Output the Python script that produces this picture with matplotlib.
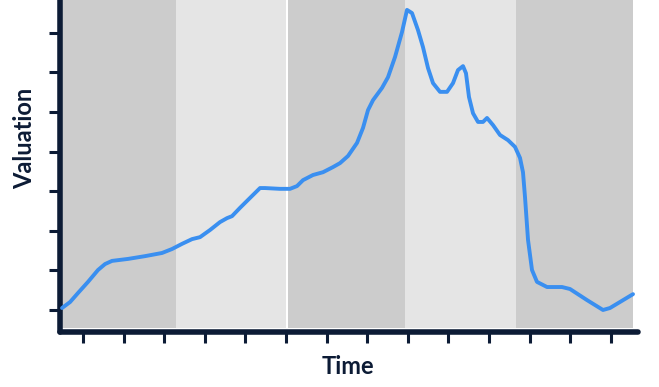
import matplotlib
matplotlib.use("Agg")
import matplotlib.pyplot as plt

# Data (time units, valuation units)
time = [0.483, 0.680, 0.877, 1.123, 1.369, 1.542, 1.714, 2.108, 2.527, 2.946,
        3.192, 3.438, 3.685, 3.882, 4.128, 4.374, 4.547, 4.670, 4.867, 5.113,
        5.360, 5.483, 5.852, 6.099, 6.271, 6.419, 6.665, 6.911, 7.158, 7.330,
        7.527, 7.749, 7.897, 8.020, 8.143, 8.365, 8.512, 8.685, 8.857, 8.980,
        9.103, 9.251, 9.374, 9.498, 9.621, 9.793, 9.966, 10.113, 10.236, 10.360,
        10.433, 10.507, 10.606, 10.729, 10.852, 10.951, 11.099, 11.271, 11.468,
        11.640, 11.764, 11.837, 11.887, 11.961, 12.059, 12.182, 12.429, 12.798,
        12.995, 13.414, 13.808, 13.980, 14.547]
valuation = [1.05, 1.20, 1.43, 1.71, 2.01, 2.16, 2.24, 2.29, 2.36, 2.44,
             2.54, 2.67, 2.79, 2.84, 3.02, 3.22, 3.32, 3.37, 3.58, 3.83,
             4.08, 4.08, 4.06, 4.06, 4.13, 4.28, 4.41, 4.48, 4.61, 4.71,
             4.89, 5.22, 5.60, 6.05, 6.30, 6.61, 6.88, 7.39, 8.02, 8.58,
             8.50, 8.07, 7.64, 7.11, 6.73, 6.51, 6.51, 6.73, 7.06, 7.16,
             6.98, 6.38, 5.97, 5.75, 5.75, 5.85, 5.67, 5.42, 5.29,
             5.12, 4.84, 4.48, 3.85, 2.77, 2.01, 1.71, 1.58, 1.58,
             1.53, 1.25, 1.00, 1.05, 1.40]

band_starts = [0.43, 3.29, 6.05, 8.93, 11.66]
band_ends = [3.29, 6.00, 8.93, 11.66, 14.55]
band_colors = ["#cccccc", "#e5e5e5", "#cccccc", "#e5e5e5", "#cccccc"]

x_ticks = list(range(1, 15))
y_ticks = list(range(1, 9))

navy = "#0c1b35"

fig = plt.figure(figsize=(6.59, 3.87), dpi=100)
ax = fig.add_axes([60/659, 1 - 332/387, (638 - 60)/659, 332/387])

for s, e, c in zip(band_starts, band_ends, band_colors):
    ax.axvspan(s, e, ymin=0.012, ymax=1, color=c, lw=0, zorder=0)

ax.plot(time, valuation, color="#3a8ff0", lw=2.8, solid_joinstyle="round",
        solid_capstyle="round", zorder=3)

ax.set_xlim(0.433, 14.67)
ax.set_ylim(0.444, 8.83)
ax.set_xticks(x_ticks)
ax.set_yticks(y_ticks)
ax.set_xticklabels([])
ax.set_yticklabels([])
ax.tick_params(axis="both", direction="out", length=8, width=2.2, color=navy)

for side in ["top", "right"]:
    ax.spines[side].set_visible(False)
for side in ["left", "bottom"]:
    ax.spines[side].set_color(navy)
    ax.spines[side].set_linewidth(4)
    ax.spines[side].set_capstyle("round")

fig.text(348/659, 1 - 366/387, "Time", ha="center", va="center",
         fontsize=17, fontweight="bold", color=navy, family="Lato")
fig.text(25/659, 1 - 138/387, "Valuation", ha="center", va="center",
         rotation=90, fontsize=17, fontweight="bold", color=navy, family="Lato")

fig.savefig("out.png", dpi=100)
